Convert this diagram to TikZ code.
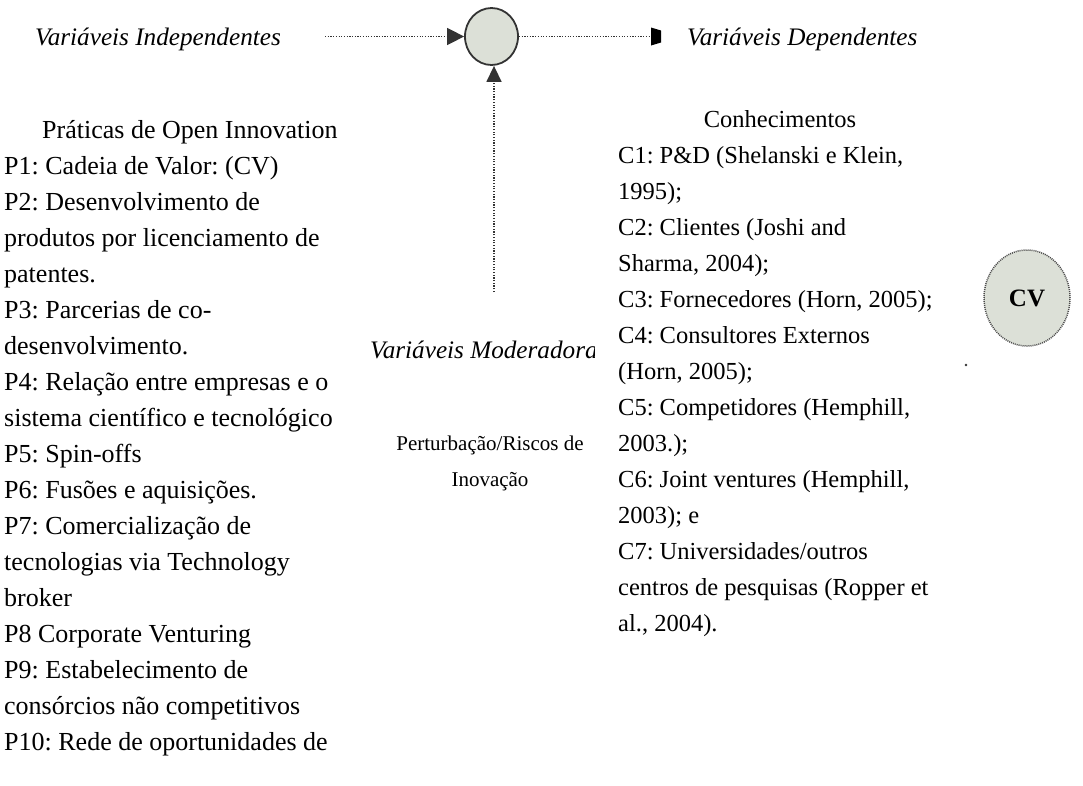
\documentclass[tikz,border=0pt]{standalone}
\usepackage{fontspec}
\setmainfont{Liberation Serif}
\usetikzlibrary{arrows.meta,shapes.geometric}
\definecolor{hubfill}{HTML}{DCE0D7}
\frenchspacing
\begin{document}
\begin{tikzpicture}[x=1pt,y=-1pt,
  txt/.style={anchor=base west,inner sep=0pt,font=\fontsize{26}{30}\selectfont},
  rtxt/.style={anchor=base west,inner sep=0pt,font=\fontsize{24.5}{30}\selectfont},
  head/.style={anchor=base west,inner sep=0pt,font=\fontsize{25.2}{30}\selectfont\itshape},
  small/.style={anchor=base,inner sep=0pt,font=\fontsize{21}{25}\selectfont},
  dots/.style={draw=black!80,line width=1.5pt,dash pattern=on 1.2pt off 1.5pt},
  hub/.style={ellipse,draw=black!80,line width=1.8pt,fill=hubfill,
    minimum width=53pt,minimum height=57pt,inner sep=0pt},
  tipin/.style={-{Triangle[length=17pt,width=17pt]}},
  tipup/.style={-{Triangle[length=16pt,width=15pt]}}
]
\useasboundingbox (0,0) rectangle (1083,785);
\clip (0,0) rectangle (1083,785);
\fill[white] (0,0) rectangle (1083,785);

% central variable and its connectors
\node[hub] (hub) at (491.5,36.5) {};
\node[head] (indep) at (35,45) {Variáveis Independentes};
\node[head] (dep) at (687,45) {Variáveis Dependentes};
\coordinate (src) at (325,36.5);
\coordinate (dst) at (651,36.5);
\coordinate (modsrc) at (494,292);
\draw[dots,tipin] (src) -- (hub.west);
\draw[dots] (hub.east) -- (dst);
\fill[black] (dst) ++(0,-9) -- ++(10,3) -- ++(0,12) -- ++(-10,3) -- cycle;
\draw[dots,tipup] (modsrc) -- (modsrc |- hub.south);

% independent variables
\node[txt] (ptitle) at (42,138) {Práticas de Open Innovation};
\foreach \ln [count=\i] in {
  P1: Cadeia de Valor: (CV),
  P2: Desenvolvimento de,
  produtos por licenciamento de,
  patentes.,
  P3: Parcerias de co-,
  desenvolvimento.,
  P4: Relação entre empresas e o,
  sistema científico e tecnológico,
  P5: Spin-offs,
  P6: Fusões e aquisições.,
  P7: Comercialização de,
  tecnologias via Technology,
  broker,
  P8 Corporate Venturing,
  P9: Estabelecimento de,
  consórcios não competitivos,
  P10: Rede de oportunidades de}
  \node[txt] (p\i) at (4,138+36*\i) {\ln};

% dependent variables
\node[rtxt,anchor=base] (ctitle) at (780,127) {Conhecimentos};
\foreach \ln [count=\i] in {
  {C1: P\&D (Shelanski e Klein,},
  1995);,
  C2: Clientes (Joshi and,
  {Sharma, 2004);},
  {C3: Fornecedores (Horn, 2005);},
  C4: Consultores Externos,
  {(Horn, 2005);},
  {C5: Competidores (Hemphill,},
  2003.);,
  {C6: Joint ventures (Hemphill,},
  2003); e,
  C7: Universidades/outros,
  centros de pesquisas (Ropper et,
  {al., 2004).}}
  \node[rtxt] (c\i) at (618,127+36*\i) {\ln};

% moderating variables
\begin{scope}
  \clip (360,320) rectangle (594,380);
  \node[head] (mod) at (370,358) {Variáveis Moderadoras};
\end{scope}
\node[small] (risk1) at (490,450) {Perturbação/Riscos de};
\node[small] (risk2) at (490,486) {Inovação};

% value chain
\node[ellipse,draw=black!70,line width=1.5pt,dash pattern=on 1pt off 1pt,
  fill=hubfill,minimum width=86pt,minimum height=96pt,inner sep=0pt,
  font=\fontsize{25}{28}\selectfont\bfseries] (cv) at (1027,298) {CV};
\fill[black!80] (966,365) circle (1.3pt);
\end{tikzpicture}
\end{document}
